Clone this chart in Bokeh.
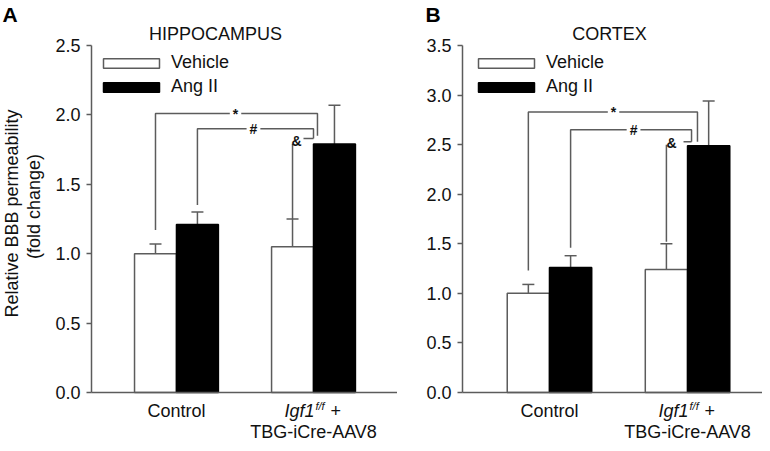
import math
from bokeh.plotting import figure
from bokeh.models import (ColumnDataSource, Whisker, TeeHead, Label, Legend, LegendItem,
                          FixedTicker, Range1d, LinearAxis)
from bokeh.layouts import row
from bokeh.embed import file_html
from bokeh.resources import INLINE

# ---------------- data ----------------
groups = ["Control", "Igf1 f/f + TBG-iCre-AAV8"]
series = ["Vehicle", "Ang II"]

hip_vehicle = [1.00, 1.05]
hip_vehicle_err = [0.07, 0.20]
hip_ang = [1.21, 1.79]
hip_ang_err = [0.09, 0.28]

ctx_vehicle = [1.00, 1.24]
ctx_vehicle_err = [0.09, 0.26]
ctx_ang = [1.26, 2.49]
ctx_ang_err = [0.12, 0.45]

hip_ticks = [0.0, 0.5, 1.0, 1.5, 2.0, 2.5]
ctx_ticks = [0.0, 0.5, 1.0, 1.5, 2.0, 2.5, 3.0, 3.5]

# significance brackets (value levels)
# star / hash: left-leg bottom, top level, right-leg bottom
hip_star = [1.17, 2.01, 1.85]
hip_hash = [1.35, 1.90, 1.83]
hip_amp = [1.25, 1.79, 1.83]   # left-leg bottom, left-leg top, short line level
ctx_star = [1.23, 2.83, 2.53]
ctx_hash = [1.46, 2.65, 2.53]
ctx_amp = [1.52, 2.50, 2.53]

# ---------------- style ----------------
FONT = "Liberation Sans"
LINE = "#5c5c5c"
TXT = "#111111"
OFF = 0.153   # half bar width (data units)
BW = 0.306
FIG_H = 443
Y_TOP_PX = 45      # pixel row of the top of the value axis
Y_ZERO_PX = 392    # pixel row of value 0


def panel(title, letter, vehicle, veh_err, ang, ang_err, ymax, ticks,
          width, axis_px, x_axis0, x_end, star, hsh, amp, star_lx, hash_lx, star_rx, hash_rx,
          amp_lx, amp_l0, title_px, letter_px, legend_x, ylabel=None):
    ppx = (width - axis_px) / (x_end - x_axis0)
    ppy = (Y_ZERO_PX - Y_TOP_PX) / ymax
    xs0 = x_axis0 - axis_px / ppx
    ys0 = -(FIG_H - Y_ZERO_PX) / ppy
    ys1 = ymax + Y_TOP_PX / ppy

    def dx(px):
        return xs0 + px / ppx

    def dy(py):
        return ys1 - py / ppy

    p = figure(width=width, height=FIG_H, x_range=Range1d(xs0, x_end), y_range=Range1d(ys0, ys1),
               output_backend="svg", toolbar_location=None,
               x_axis_location=None, y_axis_location=None,
               min_border=0, min_border_left=0, min_border_right=0,
               min_border_top=0, min_border_bottom=0)
    p.outline_line_color = None
    p.xgrid.visible = False
    p.ygrid.visible = False
    p.background_fill_color = "white"
    p.border_fill_color = "white"

    gpos = [i + 1 for i in range(len(vehicle))]
    xv = [g - OFF for g in gpos]
    xa = [g + OFF for g in gpos]

    src_v = ColumnDataSource(dict(x=xv, top=vehicle, up=[v + e for v, e in zip(vehicle, veh_err)]))
    src_a = ColumnDataSource(dict(x=xa, top=ang, up=[v + e for v, e in zip(ang, ang_err)]))

    rv = p.vbar(x="x", top="top", bottom=0, width=BW, source=src_v,
                fill_color="white", line_color=LINE, line_width=1.5)
    ra = p.vbar(x="x", top="top", bottom=0, width=BW, source=src_a,
                fill_color="black", line_color="black", line_width=1.5)

    for s in (src_v, src_a):
        w = Whisker(base="x", lower="top", upper="up", source=s, dimension="height",
                    line_color=LINE, line_width=1.5, lower_head=None,
                    upper_head=TeeHead(size=12, line_color=LINE, line_width=1.5))
        p.add_layout(w)

    # brackets
    bx = [[xv[0], xv[0], star_rx, star_rx],
          [xa[0], xa[0], hash_rx, hash_rx],
          [xv[1], xv[1]],
          [amp_l0, hash_rx]]
    by = [[star[0], star[1], star[1], star[2]],
          [hsh[0], hsh[1], hsh[1], hsh[2]],
          [amp[0], amp[1]],
          [amp[2], amp[2]]]
    p.multi_line(xs=bx, ys=by, line_color=LINE, line_width=1.5)

    for txt, lx, ly, bg in (("*", star_lx, star[1], True), ("#", hash_lx, hsh[1], True),
                            ("&", amp_lx, amp[1] + 0.02, False)):
        lab = Label(x=lx, y=ly, text=txt, text_align="center", text_baseline="middle",
                    text_font=FONT, text_font_size="14px", text_font_style="bold",
                    text_color=TXT)
        if bg:
            lab.background_fill_color = "white"
            lab.padding = 3
        p.add_layout(lab)

    # axes, pinned at value 0 and at the left edge of the data area
    xax = LinearAxis(fixed_location=0, bounds=(x_axis0, x_end), ticker=FixedTicker(ticks=[]),
                     axis_line_color=LINE, axis_line_width=1.5,
                     major_tick_line_color=None, minor_tick_line_color=None)
    p.add_layout(xax, "below")
    yax = LinearAxis(fixed_location=x_axis0, bounds=(0, ymax), ticker=FixedTicker(ticks=ticks),
                     major_label_overrides={t: f"{t:.1f}" for t in ticks},
                     axis_line_color=LINE, axis_line_width=1.5,
                     major_tick_line_color=LINE, major_tick_line_width=1.5,
                     major_tick_out=5, major_tick_in=0, minor_tick_line_color=None,
                     major_label_standoff=6, major_label_text_font=FONT,
                     major_label_text_font_size="18px", major_label_text_color=TXT)
    p.add_layout(yax, "left")

    def lab(xd, yd, text, size, style="normal", align="center", baseline="middle",
            angle=0.0, color=TXT, xo=0):
        p.add_layout(Label(x=xd, y=yd, x_offset=xo, text=text, text_align=align,
                           text_baseline=baseline, text_font=FONT, text_font_size=size,
                           text_font_style=style, text_color=color, angle=angle))

    if ylabel:
        lab(dx(11), dy(213), ylabel[0], "18px", angle=math.pi / 2)
        lab(dx(33), dy(206), ylabel[1], "18px", angle=math.pi / 2)

    # title and panel letter
    lab(dx(title_px), dy(33), title, "18px")
    lab(dx(letter_px), dy(2), letter, "21px", style="bold", align="left", baseline="top",
        color="black")

    # category labels
    lab(gpos[0], dy(410), groups[0], "18px")
    g2 = gpos[1]
    lab(g2, dy(410), "Igf1", "18px", style="italic", align="right", xo=1)
    lab(g2, dy(405), "f/f", "11px", style="italic", align="left", xo=2)
    lab(g2, dy(410), "+", "18px", align="left", xo=17)
    lab(g2, dy(431), "TBG-iCre-AAV8", "18px")

    legend = Legend(items=[LegendItem(label=series[0], renderers=[rv]),
                           LegendItem(label=series[1], renderers=[ra])],
                    location=(legend_x, 346), glyph_width=70, glyph_height=12,
                    label_standoff=5, label_text_font=FONT, label_text_font_size="18px",
                    label_text_color=TXT, label_height=20, spacing=3, padding=0, margin=0,
                    border_line_color=None, background_fill_alpha=0)
    p.add_layout(legend)
    return p


pA = panel("HIPPOCAMPUS", "A", hip_vehicle, hip_vehicle_err, hip_ang, hip_ang_err, 2.5, hip_ticks,
           397, 91, 0.380, 2.613, hip_star, hip_hash, hip_amp,
           1.431, 1.562, 2.029, 2.0, 1.876, 1.927, 215, 2, 96,
           ylabel=["Relative BBB permeability", "(fold change)"])
pB = panel("CORTEX", "B", ctx_vehicle, ctx_vehicle_err, ctx_ang, ctx_ang_err, 3.5, ctx_ticks,
           365, 65, 0.370, 2.543, ctx_star, ctx_hash, ctx_amp,
           1.464, 1.609, 2.072, 2.029, 1.884, 1.971, 212, 28, 74)

layout = row(pA, pB)
open("out.html", "w").write(file_html(layout, INLINE))
